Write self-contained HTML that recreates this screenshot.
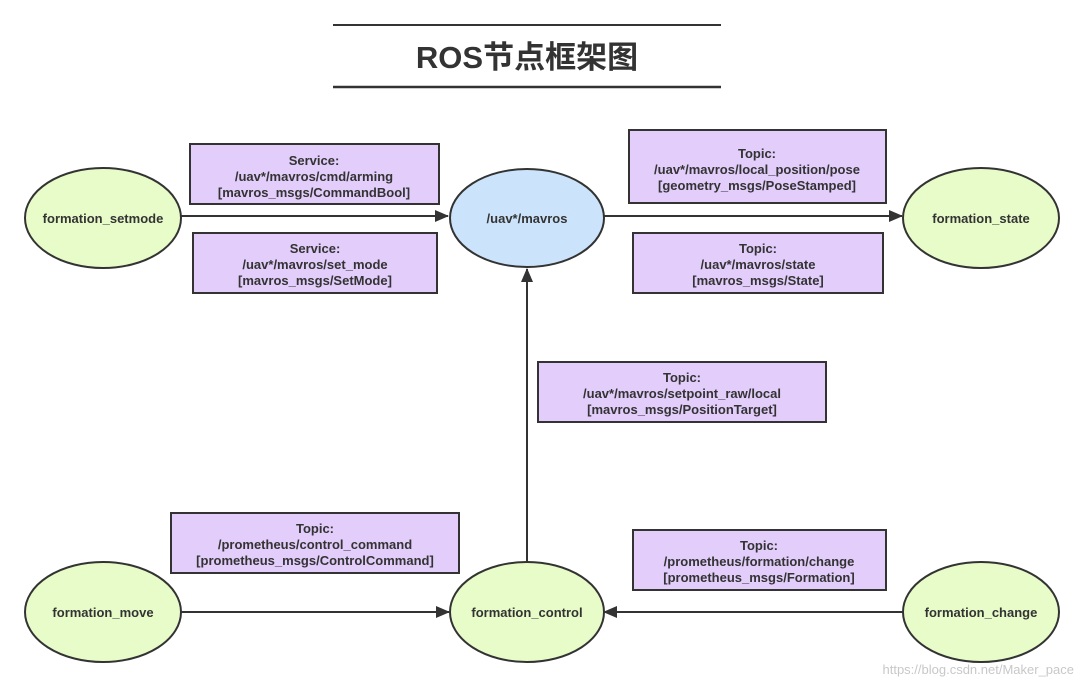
<!DOCTYPE html>
<html><head><meta charset="utf-8"><style>
html,body{margin:0;padding:0;background:#fff;}
svg{display:block;}
text{font-family:"Liberation Sans","Noto Sans CJK SC",sans-serif;fill:#333;}
.t{font-size:13px;font-weight:bold;text-anchor:middle;}
.b{fill:#e2cdfb;stroke:#333;stroke-width:2;}
.g{fill:#e8fcc9;stroke:#333;stroke-width:2;}
.u{fill:#cce4fb;stroke:#333;stroke-width:2;}
.l{stroke:#333;stroke-width:2;fill:none;}
</style></head><body>
<svg width="1084" height="688" viewBox="0 0 1084 688" xmlns="http://www.w3.org/2000/svg">
<defs><marker id="a" markerWidth="14" markerHeight="12" refX="13" refY="6" orient="auto" markerUnits="userSpaceOnUse"><path d="M0,0 L14,6 L0,12 z" fill="#333"/></marker></defs>
<line x1="333" y1="25" x2="721" y2="25" stroke="#333" stroke-width="2"/>
<line x1="333" y1="87" x2="721" y2="87" stroke="#333" stroke-width="2.5"/>
<text x="527" y="68" style="font-size:31px;font-weight:bold;text-anchor:middle;">ROS节点框架图</text>

<line class="l" x1="181" y1="216" x2="448" y2="216" marker-end="url(#a)"/>
<line class="l" x1="604" y1="216" x2="902" y2="216" marker-end="url(#a)"/>
<line class="l" x1="527" y1="562" x2="527" y2="269" marker-end="url(#a)"/>
<line class="l" x1="181" y1="612" x2="449" y2="612" marker-end="url(#a)"/>
<line class="l" x1="903" y1="612" x2="604" y2="612" marker-end="url(#a)"/>

<ellipse class="g" cx="103" cy="218" rx="78" ry="50"/>
<text class="t" x="103" y="223">formation_setmode</text>
<ellipse class="u" cx="527" cy="218" rx="77" ry="49"/>
<text class="t" x="527" y="223">/uav*/mavros</text>
<ellipse class="g" cx="981" cy="218" rx="78" ry="50"/>
<text class="t" x="981" y="223">formation_state</text>
<ellipse class="g" cx="103" cy="612" rx="78" ry="50"/>
<text class="t" x="103" y="617">formation_move</text>
<ellipse class="g" cx="527" cy="612" rx="77" ry="50"/>
<text class="t" x="527" y="617">formation_control</text>
<ellipse class="g" cx="981" cy="612" rx="78" ry="50"/>
<text class="t" x="981" y="617">formation_change</text>

<rect class="b" x="190" y="144" width="249" height="60"/>
<text class="t" x="314" y="165">Service:</text>
<text class="t" x="314" y="181">/uav*/mavros/cmd/arming</text>
<text class="t" x="314" y="197">[mavros_msgs/CommandBool]</text>

<rect class="b" x="193" y="233" width="244" height="60"/>
<text class="t" x="315" y="253">Service:</text>
<text class="t" x="315" y="269">/uav*/mavros/set_mode</text>
<text class="t" x="315" y="285">[mavros_msgs/SetMode]</text>

<rect class="b" x="629" y="130" width="257" height="73"/>
<text class="t" x="757" y="158">Topic:</text>
<text class="t" x="757" y="174">/uav*/mavros/local_position/pose</text>
<text class="t" x="757" y="190">[geometry_msgs/PoseStamped]</text>

<rect class="b" x="633" y="233" width="250" height="60"/>
<text class="t" x="758" y="253">Topic:</text>
<text class="t" x="758" y="269">/uav*/mavros/state</text>
<text class="t" x="758" y="285">[mavros_msgs/State]</text>

<rect class="b" x="538" y="362" width="288" height="60"/>
<text class="t" x="682" y="382">Topic:</text>
<text class="t" x="682" y="398">/uav*/mavros/setpoint_raw/local</text>
<text class="t" x="682" y="414">[mavros_msgs/PositionTarget]</text>

<rect class="b" x="171" y="513" width="288" height="60"/>
<text class="t" x="315" y="533">Topic:</text>
<text class="t" x="315" y="549">/prometheus/control_command</text>
<text class="t" x="315" y="565">[prometheus_msgs/ControlCommand]</text>

<rect class="b" x="633" y="530" width="253" height="60"/>
<text class="t" x="759" y="550">Topic:</text>
<text class="t" x="759" y="566">/prometheus/formation/change</text>
<text class="t" x="759" y="582">[prometheus_msgs/Formation]</text>

<text x="1074" y="674" style="font-size:13px;text-anchor:end;fill:#c8c8c8;">https://blog.csdn.net/Maker_pace</text>
</svg>
</body></html>
